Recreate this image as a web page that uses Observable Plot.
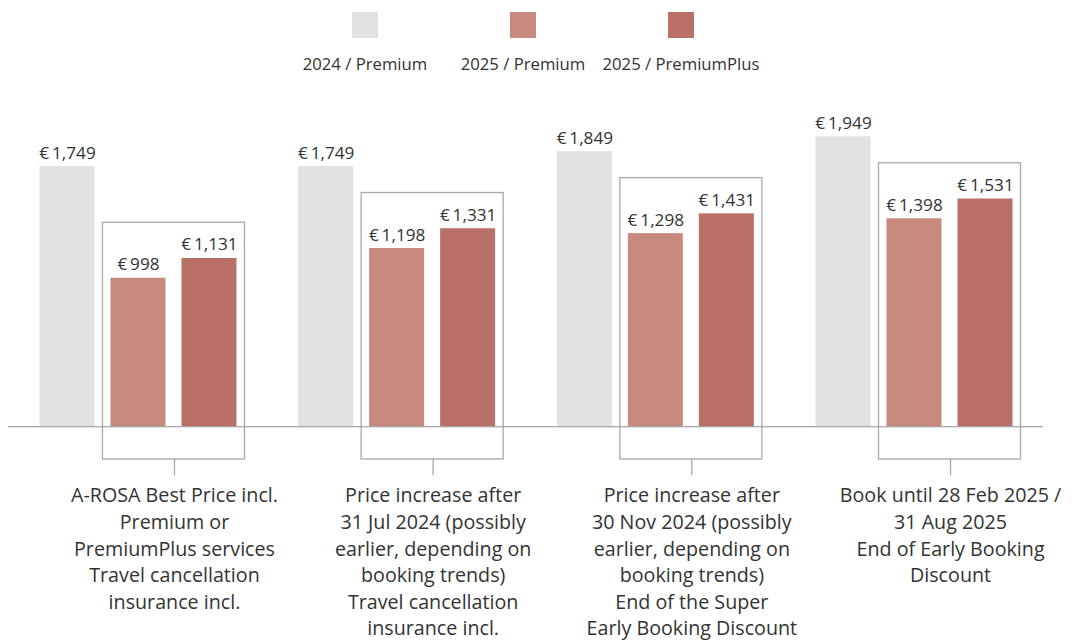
<!DOCTYPE html>
<html><head><meta charset="utf-8">
<script src="https://cdn.jsdelivr.net/npm/d3@7"></script>
<script src="https://cdn.jsdelivr.net/npm/@observablehq/plot@0.6"></script>
<style>
body{margin:0;background:#fff;font-family:"Open Sans",sans-serif;color:#333}
#legend{height:90px;position:relative;display:flex;padding-left:286px;box-sizing:border-box}
.item{margin-top:12px;width:158px;text-align:center;font-size:16.7px}
.sw{width:26px;height:26px;margin:0 auto}
.lab{margin-top:16px;line-height:20px;white-space:nowrap}
#chart svg{display:block}
</style></head><body>
<div id="legend"></div><div id="chart"></div>
<script>
const categoryLabels = [
  "A-ROSA Best Price incl.\nPremium or\nPremiumPlus services\nTravel cancellation\ninsurance incl.",
  "Price increase after\n31 Jul 2024 (possibly\nearlier, depending on\nbooking trends)\nTravel cancellation\ninsurance incl.",
  "Price increase after\n30 Nov 2024 (possibly\nearlier, depending on\nbooking trends)\nEnd of the Super\nEarly Booking Discount",
  "Book until 28 Feb 2025 /\n31 Aug 2025\nEnd of Early Booking\nDiscount"
];
const series = ["2024 / Premium", "2025 / Premium", "2025 / PremiumPlus"];
const seriesColors = ["#e0e1e3", "#c88a7f", "#b87067"];
const prices2024Premium = [1749, 1749, 1849, 1949];
const prices2025Premium = [998, 1198, 1298, 1398];
const prices2025PremiumPlus = [1131, 1331, 1431, 1531];

// legend
const legend = document.getElementById("legend");
series.forEach((s, i) => {
  const it = document.createElement("div"); it.className = "item";
  const sw = document.createElement("div"); sw.className = "sw"; sw.style.background = seriesColors[i];
  const lab = document.createElement("div"); lab.className = "lab"; lab.textContent = s;
  it.append(sw, lab); legend.append(it);
});

const valuesBySeries = [prices2024Premium, prices2025Premium, prices2025PremiumPlus];
const rows = [];
categoryLabels.forEach((g, gi) => series.forEach((s, si) => rows.push({group: g, series: s, value: valuesBySeries[si][gi]})));
const boxes = categoryLabels.map((g, gi) => ({group: g, top: Math.max(prices2025Premium[gi], prices2025PremiumPlus[gi]) + 240}));
const fmt = d3.format(",");
const textColor = "#333";

const chart = Plot.plot({
  width: 1072, height: 552,
  marginLeft: 10, marginRight: 30, marginTop: 0, marginBottom: 0,
  style: {fontFamily: "'Open Sans', sans-serif", background: "#fff", color: textColor},
  fx: {domain: categoryLabels, paddingInner: 0.2385, paddingOuter: 0.114, round: false, axis: null, label: null},
  x: {domain: series, paddingInner: 0.225, paddingOuter: 0, round: false, axis: null, label: null},
  y: {domain: [-1450, 2260], axis: null},
  color: {domain: series, range: seriesColors},
  marks: [
    Plot.barY(rows, {fx: "group", x: "series", y: "value", fill: "series"}),
    Plot.rect(boxes, {fx: "group", x1: () => series[1], x2: () => series[2], y1: -220, y2: "top",
      fill: "none", stroke: "#a9a9a9", strokeWidth: 1.3, insetLeft: -8, insetRight: -8}),
    Plot.ruleY(boxes, {fx: "group", y: () => 0, stroke: "#8f8f8f", strokeWidth: 1.2, insetLeft: -31.5, insetRight: -30.5}),
    Plot.ruleX(boxes, {fx: "group", x: () => series[1], y1: -220, y2: -330, dx: 36, stroke: "#a9a9a9", strokeWidth: 1.3}),
    Plot.text(rows, {fx: "group", x: "series", y: "value", text: d => "€\u2009" + fmt(d.value),
      dy: -8, lineAnchor: "bottom", fontSize: 17.2, fill: textColor}),
    Plot.text(boxes, {fx: "group", x: () => series[1], y: -220, text: "group", dx: 36, dy: 24,
      lineAnchor: "top", lineHeight: 1.35, fontSize: 19.7, fill: textColor})
  ]
});
document.getElementById("chart").append(chart);
</script>
</body></html>
